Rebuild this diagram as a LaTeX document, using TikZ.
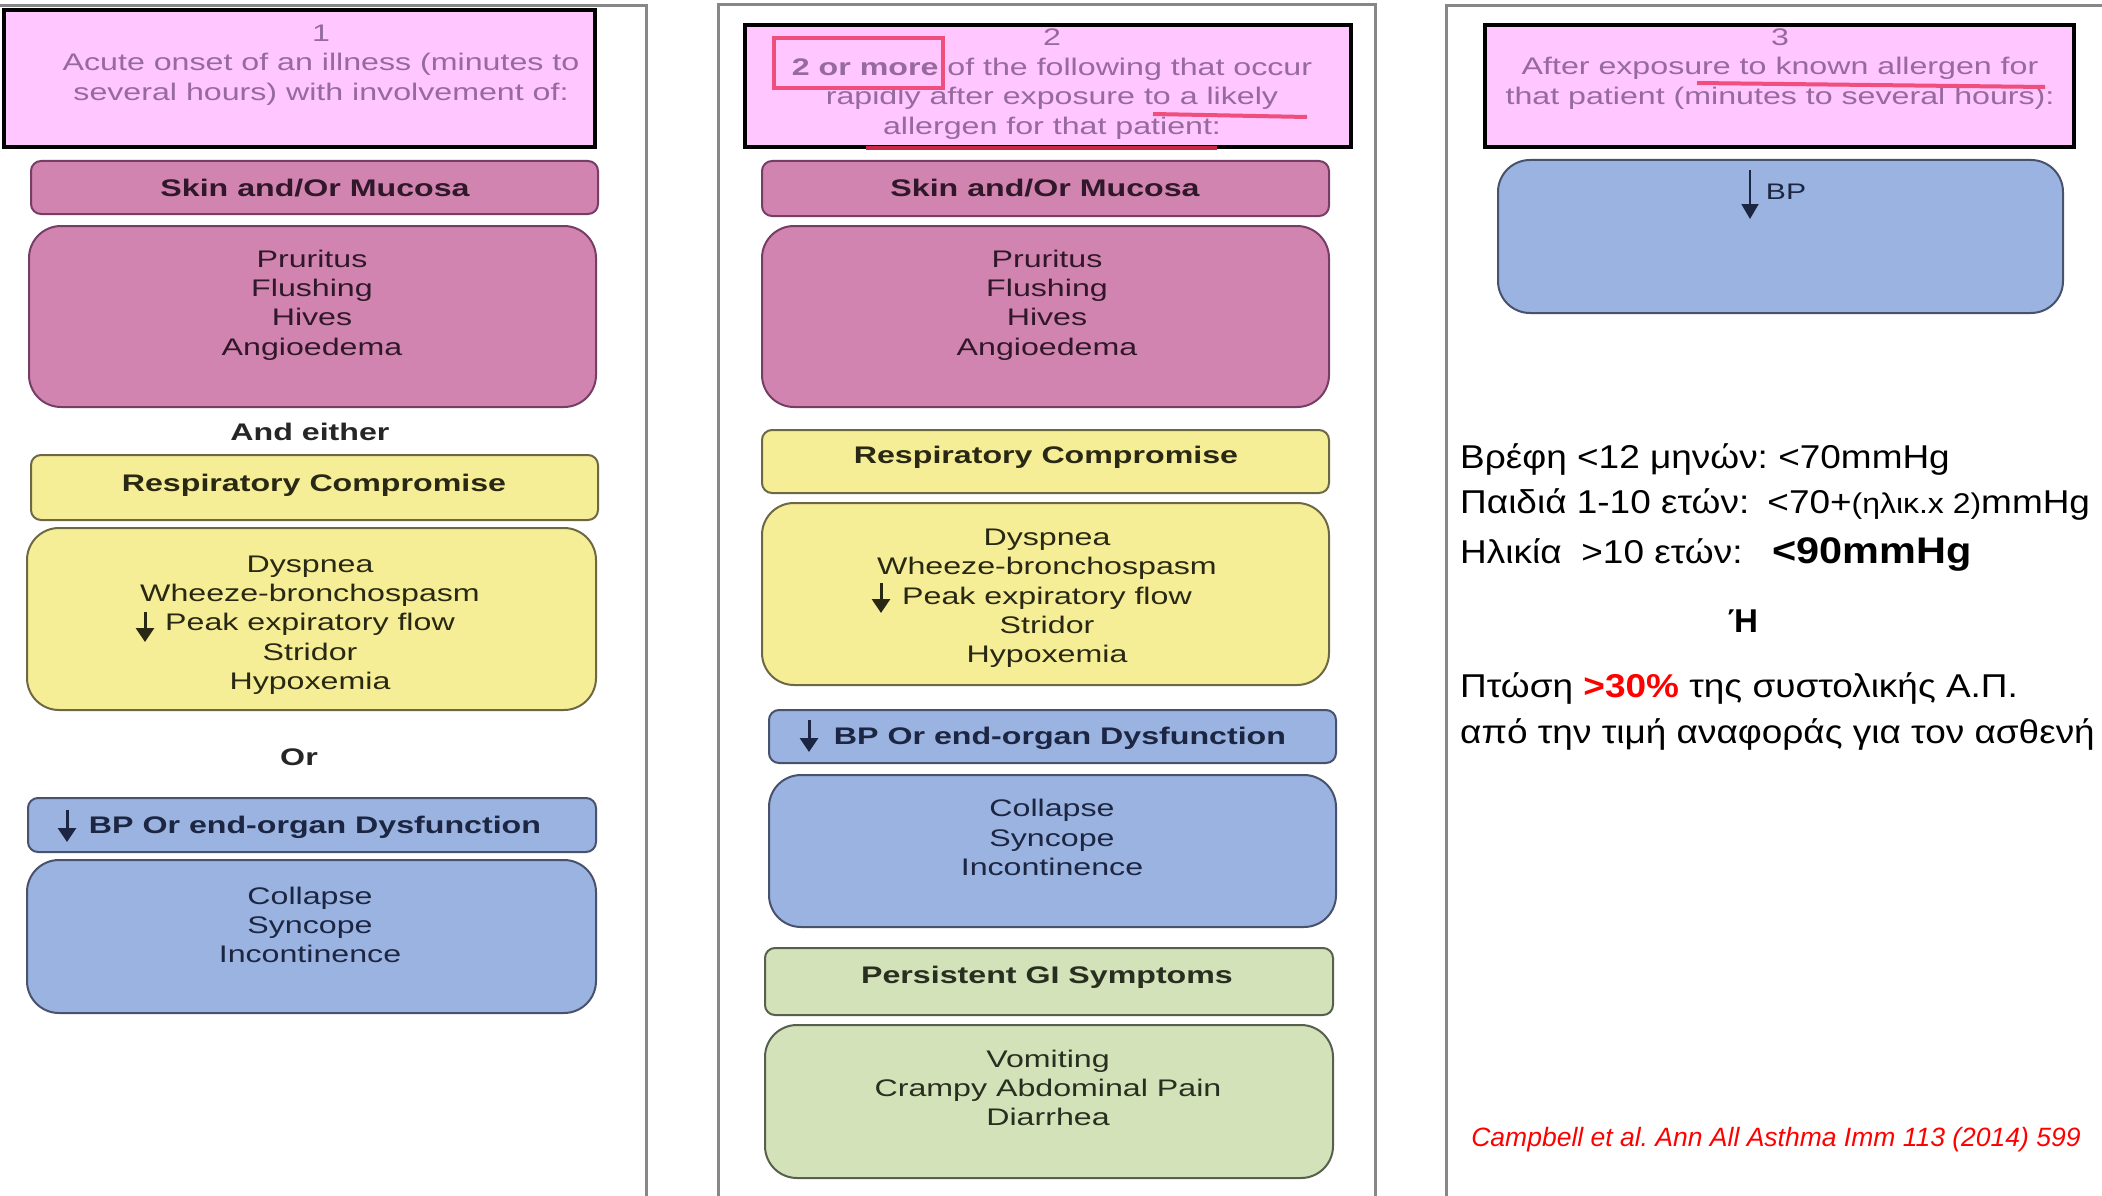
\documentclass[tikz,border=0pt]{standalone}
\usepackage{fontspec}
\setmainfont{Liberation Sans}
\newfontfamily\pf[FakeStretch=1.34]{Liberation Sans}
\newfontfamily\gf[FakeStretch=1.12]{Liberation Sans}
\usetikzlibrary{arrows.meta}
\frenchspacing
\definecolor{ttlfill}{RGB}{255,198,255}
\definecolor{ttltxt}{RGB}{150,106,156}
\definecolor{pinkfill}{RGB}{210,132,177}
\definecolor{pinkdraw}{RGB}{118,62,100}
\definecolor{pinktxt}{RGB}{48,24,42}
\definecolor{yelfill}{RGB}{246,238,150}
\definecolor{yeldraw}{RGB}{108,104,70}
\definecolor{yeltxt}{RGB}{40,40,20}
\definecolor{blufill}{RGB}{154,179,224}
\definecolor{bludraw}{RGB}{72,82,108}
\definecolor{blutxt}{RGB}{28,38,66}
\definecolor{grnfill}{RGB}{212,226,186}
\definecolor{grndraw}{RGB}{86,96,76}
\definecolor{grntxt}{RGB}{40,46,32}
\definecolor{framegray}{RGB}{135,135,135}
\definecolor{annored}{RGB}{240,78,125}
\definecolor{annodark}{RGB}{200,40,70}
\begin{document}
\begin{tikzpicture}[x=1pt,y=-1pt,
  frame/.style={draw=framegray, line width=3pt},
  ttlbox/.style={draw=black, fill=ttlfill, line width=4pt, inner sep=0pt},
  hd/.style={draw=#1draw, fill=#1fill, line width=2pt, rounded corners=10pt, inner sep=0pt},
  bd/.style={draw=#1draw, fill=#1fill, line width=2pt, rounded corners=32pt, inner sep=0pt},
  sz/.style 2 args={minimum width=#1pt, minimum height=#2pt},
  ttltext/.style={text=ttltxt, align=center, inner sep=0pt, font=\pf\fontsize{24}{29.6}\selectfont},
  hdtext/.style={text=#1, align=center, inner sep=0pt, font=\pf\bfseries\fontsize{24}{29}\selectfont},
  bdtext/.style={text=#1, align=center, inner sep=0pt, font=\pf\fontsize{24}{29.3}\selectfont},
  darr/.style={line width=3pt, -{Triangle[width=18pt,length=14pt]}},
  grk/.style={inner sep=0pt, anchor=base west, font=\gf\fontsize{33}{40}\selectfont},
  cite/.style={inner sep=0pt, text=red, font=\itshape\fontsize{26.5}{30}\selectfont},
  anno/.style={draw=annored, line width=4pt}
]
\useasboundingbox (0,0) rectangle (2102,1196);
\clip (0,0) rectangle (2102,1196);
\fill[white] (0,0) rectangle (2102,1196);

% panel frames
\draw[frame] (-20,6) -- (646,6) -- (646,1220);
\draw[frame] (718,1220) -- (718,5) -- (1375,5) -- (1375,1220);
\draw[frame] (1446,1220) -- (1446,6) -- (2130,6);

% ---------- panel 1 ----------
\node[ttlbox, sz={591}{137}] (T1) at (299.5,78.5) {};
\node[ttltext] (T1t) at (321,65) {1\\Acute onset of an illness (minutes to\\several hours) with involvement of:};

\node[hd=pink, sz={567}{53}] (S1h) at (314.5,187.5) {};
\node[hdtext=pinktxt] (S1ht) at (315,188) {Skin and/Or Mucosa};
\node[bd=pink, sz={567}{181}] (S1b) at (312.5,316.5) {};
\node[bdtext=pinktxt] (S1bt) at (312,305) {Pruritus\\Flushing\\Hives\\Angioedema};

\node[hdtext=black!85] (AE) at (310,432) {And either};

\node[hd=yel, sz={567}{65}] (R1h) at (314.5,487.5) {};
\node[hdtext=yeltxt] (R1ht) at (314,485) {Respiratory Compromise};
\node[bd=yel, sz={569}{182}] (R1b) at (311.5,619) {};
\node[bdtext=yeltxt] (R1bt) at (310,625) {Dyspnea\\Wheeze-bronchospasm\\Peak expiratory flow\\Stridor\\Hypoxemia};
\coordinate (a1s) at (145,612);
\coordinate (a1e) at (145,642);
\draw[darr, yeltxt] (a1s) -- (a1e);

\node[hdtext=black!85] (OR) at (299,757) {Or};

\node[hd=blu, sz={568}{54}] (B1h) at (312,825) {};
\node[hdtext=blutxt] (B1ht) at (315,827) {BP Or end-organ Dysfunction};
\coordinate (a2s) at (67,810);
\coordinate (a2e) at (67,842);
\draw[darr, blutxt] (a2s) -- (a2e);
\node[bd=blu, sz={569}{153}] (B1b) at (311.5,936.5) {};
\node[bdtext=blutxt] (B1bt) at (310,925) {Collapse\\Syncope\\Incontinence};

% ---------- panel 2 ----------
\node[ttlbox, sz={606}{122}] (T2) at (1048,86) {};
\node[ttltext] (T2t) at (1052,84) {2\\\textbf{2 or more} of the following that occur\\rapidly after exposure to a likely\\allergen for that patient:};

\node[hd=pink, sz={567}{55}] (S2h) at (1045.5,188.5) {};
\node[hdtext=pinktxt] (S2ht) at (1045,188) {Skin and/Or Mucosa};
\node[bd=pink, sz={567}{181}] (S2b) at (1045.5,316.5) {};
\node[bdtext=pinktxt] (S2bt) at (1047,305) {Pruritus\\Flushing\\Hives\\Angioedema};

\node[hd=yel, sz={567}{63}] (R2h) at (1045.5,461.5) {};
\node[hdtext=yeltxt] (R2ht) at (1046,457) {Respiratory Compromise};
\node[bd=yel, sz={567}{182}] (R2b) at (1045.5,594) {};
\node[bdtext=yeltxt] (R2bt) at (1047,598.5) {Dyspnea\\Wheeze-bronchospasm\\Peak expiratory flow\\Stridor\\Hypoxemia};
\coordinate (a3s) at (881,583);
\coordinate (a3e) at (881,613);
\draw[darr, yeltxt] (a3s) -- (a3e);

\node[hd=blu, sz={567}{53}] (B2h) at (1052.5,736.5) {};
\node[hdtext=blutxt] (B2ht) at (1060,738) {BP Or end-organ Dysfunction};
\coordinate (a4s) at (809,720);
\coordinate (a4e) at (809,752);
\draw[darr, blutxt] (a4s) -- (a4e);
\node[bd=blu, sz={567}{152}] (B2b) at (1052.5,851) {};
\node[bdtext=blutxt] (B2bt) at (1052,837.5) {Collapse\\Syncope\\Incontinence};

\node[hd=grn, sz={568}{67}] (G2h) at (1049,981.5) {};
\node[hdtext=grntxt] (G2ht) at (1047,977) {Persistent GI Symptoms};
\node[bd=grn, sz={568}{153}] (G2b) at (1049,1101.5) {};
\node[bdtext=grntxt] (G2bt) at (1048,1088) {Vomiting\\Crampy Abdominal Pain\\Diarrhea};

% annotations panel 2
\draw[anno] (774,38) rectangle (943,88);
\draw[anno] (1153,114) -- (1307,117);
\draw[draw=annodark, line width=4.5pt] (866,148) -- (1217,148);

% ---------- panel 3 ----------
\node[ttlbox, sz={589}{122}] (T3) at (1779.5,86) {};
\node[ttltext] (T3t) at (1780,69) {3\\After exposure to known allergen for\\that patient (minutes to several hours):};
\draw[anno] (1697,83) -- (2045,87);

\node[bd=blu, sz={565}{153}] (B3) at (1780.5,236.5) {};
\coordinate (a5s) at (1750,170);
\coordinate (a5e) at (1750,219);
\draw[line width=2pt, -{Triangle[width=17pt,length=15pt]}, blutxt] (a5s) -- (a5e);
\node[bdtext=blutxt, font=\pf\fontsize{22.5}{27}\selectfont] (B3t) at (1786,192) {BP};

\node[grk] (g1) at (1460,468) {Βρέφη <12 μηνών: <70mmHg};
\node[grk] (g2) at (1460,513) {Παιδιά 1-10 ετών:\hspace{0.55em}<70+{\fontsize{28.5}{32}\selectfont(ηλικ.x 2)}mmHg};
\node[grk] (g3) at (1460,563) {Ηλικία\hspace{0.6em}>10 ετών:\hspace{0.9em}{\bfseries\fontsize{37}{42}\selectfont<90mmHg}};
\node[grk, anchor=base, font=\bfseries\fontsize{33}{40}\selectfont] (g4) at (1743,632) {Ή};
\node[grk] (g5) at (1460,697) {Πτώση {\color{red}\bfseries>30\%} της συστολικής Α.Π.};
\node[grk] (g6) at (1460,743) {από την τιμή αναφοράς για τον ασθενή};

\node[cite] (cit) at (1776,1140) {Campbell et al. Ann All Asthma Imm 113 (2014) 599};
\end{tikzpicture}
\end{document}
